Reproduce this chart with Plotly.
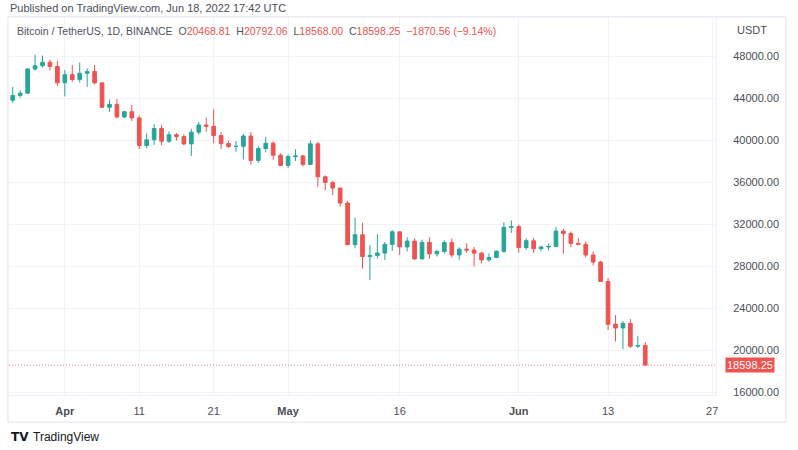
import pandas as pd
import plotly.graph_objects as go

W, H = 798, 450

start_date = "2022-03-25"
end_date = "2022-06-18"

opens = [43850, 44300, 44520, 46820, 47130, 47460, 47060,
         45510, 46280, 45810, 46410, 46580, 45500, 43170, 43440, 42250, 42750,
         42160, 39530, 40070, 41150, 39940, 40550, 40380, 39680, 40800, 41490,
         41360, 40480, 39710, 39440, 39450, 40430, 38110, 39240, 39740, 38600,
         37630, 38470, 38530, 37730, 39690, 36550, 36010, 35470, 34040, 30080,
         31020, 28940, 29050, 29280, 30100, 31300, 29860, 30420, 28720, 30300,
         29200, 29430, 30290, 29100, 29650, 29560, 29270, 28630, 28850, 29450,
         31730, 31800, 29800, 30450, 29700, 29860, 29910, 31370, 31130, 30200,
         30110, 29090, 28420, 26570, 22490, 22140, 22580, 20400, 20468.81]
highs = [45100, 44800, 46900, 48190, 48100, 47700, 47600,
         46720, 47210, 47440, 46890, 47200, 45510, 43900, 43970, 42800, 43410,
         42410, 40700, 41560, 41500, 40870, 40710, 40600, 41120, 41760, 42200,
         42980, 40800, 39980, 39940, 40620, 40800, 39470, 40370, 39930, 38800,
         38680, 39170, 38650, 40020, 39850, 36680, 36150, 35510, 34240, 32660,
         32160, 30030, 31080, 30340, 31460, 31310, 30790, 30670, 30550, 30780,
         29600, 30490, 30670, 29830, 30220, 29860, 29400, 29250, 29530, 32220,
         32400, 31980, 30690, 30700, 29960, 30190, 31770, 31590, 31330, 30700,
         30380, 29440, 28540, 26900, 23360, 22800, 22980, 21370, 20792.06]
lows = [43600, 44070, 44420, 46660, 46950, 46670, 45200,
        44200, 45620, 45530, 45120, 45350, 43120, 42730, 42110, 42130, 41870,
        39200, 39250, 39590, 39550, 39770, 39990, 39550, 38540, 40570, 40820,
        39750, 39180, 39290, 38930, 38200, 37700, 37880, 38880, 38180, 37580,
        37390, 38050, 37520, 37670, 35570, 35260, 34790, 33710, 30030, 29730,
        27790, 26700, 28750, 28630, 29480, 29080, 29430, 28650, 28690, 28730,
        28950, 29230, 28850, 28630, 29290, 28020, 28280, 28450, 28840, 29300,
        31200, 29300, 29590, 29280, 29460, 29520, 29890, 29220, 29840, 30020,
        28850, 28100, 26560, 21930, 20850, 20110, 20230, 20250, 18568.00]
closes = [44300, 44520, 46820, 47130, 47460, 47060, 45510,
          46280, 45810, 46410, 46580, 45500, 43170, 43440, 42250, 42750, 42160,
          39530, 40070, 41150, 39940, 40550, 40380, 39680, 40800, 41490, 41360,
          40480, 39710, 39440, 39450, 40430, 38110, 39240, 39740, 38600, 37630,
          38470, 38530, 37730, 39690, 36550, 36010, 35470, 34040, 30080, 31020,
          28940, 29050, 29280, 30100, 31300, 29860, 30420, 28720, 30300, 29200,
          29430, 30290, 29100, 29650, 29560, 29270, 28630, 28850, 29450, 31730,
          31800, 29800, 30450, 29700, 29860, 29910, 31370, 31130, 30200, 30110,
          29090, 28420, 26570, 22490, 22140, 22580, 20400, 20468.81, 18598.25]

x_tick_dates = ["2022-04-01", "2022-04-11", "2022-04-21", "2022-05-01",
                "2022-05-16", "2022-06-01", "2022-06-13", "2022-06-27"]
x_tick_labels = ["<b>Apr</b>", "11", "21", "<b>May</b>", "16", "<b>Jun</b>", "13", "27"]
y_tick_values = [16000, 20000, 24000, 28000, 32000, 36000, 40000, 44000, 48000]

dates = pd.date_range(start_date, end_date, freq="D")

UP = "#26a69a"
DOWN = "#ef5350"
GRID = "#f0f3fa"
TXT = "#4c4e57"
FONT = "Liberation Sans, Arial, sans-serif"

fig = go.Figure()
fig.add_trace(go.Candlestick(
    x=dates, open=opens, high=highs, low=lows, close=closes,
    increasing=dict(line=dict(color=UP, width=1), fillcolor=UP),
    decreasing=dict(line=dict(color=DOWN, width=1), fillcolor=DOWN),
    whiskerwidth=0, showlegend=False, hoverinfo="skip",
))

# last-price dotted line
last = closes[-1]
fig.add_shape(type="line", xref="x domain", yref="y", x0=0, x1=1, y0=last, y1=last,
              line=dict(color="rgba(239,83,80,0.75)", width=1, dash="1px,2px"))

# plot area geometry (pixels)
px_l, px_r, px_t, px_b = 9, 718, 17, 398

def px(x):
    return x / W

def py(y):
    return 1 - y / H

# outer frame
fig.add_shape(type="rect", xref="paper", yref="paper", x0=px(8), x1=px(788), y0=py(17), y1=py(425),
              line=dict(color="#e0e3eb", width=1), fillcolor="rgba(0,0,0,0)", layer="below")
# axis separators
fig.add_shape(type="line", xref="paper", yref="paper", x0=px(px_r), x1=px(px_r), y0=py(17), y1=py(px_b),
              line=dict(color="#eceef3", width=1))
fig.add_shape(type="line", xref="paper", yref="paper", x0=px(8), x1=px(px_r), y0=py(px_b), y1=py(px_b),
              line=dict(color="#eceef3", width=1))

# price label
fig.add_annotation(xref="paper", yref="y", x=px(727), y=last, xanchor="left", yanchor="middle",
                   text=f"{last:.2f}", showarrow=False, bgcolor=DOWN,
                   font=dict(color="white", size=11, family=FONT), borderpad=1)

# header texts
fig.add_annotation(xref="paper", yref="paper", x=px(8), y=py(8), xanchor="left", yanchor="middle",
                   text="Published on TradingView.com, Jun 18, 2022 17:42 UTC", showarrow=False,
                   font=dict(color="#4a4d57", size=11, family=FONT))

chg = closes[-1] - closes[-2]
pct = chg / closes[-2] * 100
gray = "#50535e"
legend_txt = (f"<span style='color:{gray}'>Bitcoin / TetherUS, 1D, BINANCE</span>  "
              f"<span style='color:{gray}'>O</span>{opens[-1]:.2f}  "
              f"<span style='color:{gray}'>H</span>{highs[-1]:.2f}  "
              f"<span style='color:{gray}'>L</span>{lows[-1]:.2f}  "
              f"<span style='color:{gray}'>C</span>{closes[-1]:.2f}  "
              f"\u2212{abs(chg):.2f} (\u2212{abs(pct):.2f}%)")
fig.add_annotation(xref="paper", yref="paper", x=px(15), y=py(31), xanchor="left", yanchor="middle",
                   text=legend_txt, showarrow=False, font=dict(color=DOWN, size=10.5, family=FONT))

fig.add_annotation(xref="paper", yref="paper", x=px(737), y=py(30), xanchor="left", yanchor="middle",
                   text="USDT", showarrow=False, font=dict(color=TXT, size=11, family=FONT))

# TradingView logo
fig.add_annotation(xref="paper", yref="paper", x=px(9), y=py(440), xanchor="left", yanchor="middle",
                   text="<b>TV</b>", showarrow=False, font=dict(color="#131722", size=12, family="DejaVu Sans"))
fig.add_annotation(xref="paper", yref="paper", x=px(31), y=py(440), xanchor="left", yanchor="middle",
                   text="TradingView", showarrow=False, font=dict(color="#131722", size=12, family=FONT))

# axis ranges from pixel geometry
x0_date = pd.Timestamp("2022-04-01")
ppd = 7.46
x_left = x0_date + pd.Timedelta(days=(px_l - 65) / ppd)
x_right = x0_date + pd.Timedelta(days=(px_r - 65) / ppd)
ppu = (395 - 57) / 32000.0
y_low = 16000 - (px_b - 395) / ppu
y_high = 48000 + (57 - px_t) / ppu

fig.update_layout(
    width=W, height=H, margin=dict(l=0, r=0, t=0, b=0),
    paper_bgcolor="white", plot_bgcolor="white",
    font=dict(family=FONT, size=11, color=TXT),
    xaxis=dict(domain=[px(px_l), px(px_r)], range=[x_left, x_right], type="date",
               rangeslider=dict(visible=False), tickvals=x_tick_dates, ticktext=x_tick_labels,
               showgrid=True, gridcolor=GRID, gridwidth=1, zeroline=False, showline=False,
               ticks="", ticklabelstandoff=8, tickfont=dict(size=11, color=TXT)),
    yaxis=dict(domain=[py(px_b), py(px_t)], range=[y_low, y_high], side="right",
               tickvals=y_tick_values, tickformat=".2f",
               showgrid=True, gridcolor=GRID, gridwidth=1, zeroline=False, showline=False,
               ticks="", ticklabelstandoff=16, tickfont=dict(size=11, color=TXT)),
    hovermode=False,
)

fig.write_html(
    "out.html",
    config={"displayModeBar": False, "staticPlot": True},
    post_script=("document.documentElement.style.margin='0';"
                 "document.body.style.margin='0';document.body.style.padding='0';"
                 "document.body.style.overflow='hidden';"),
)
